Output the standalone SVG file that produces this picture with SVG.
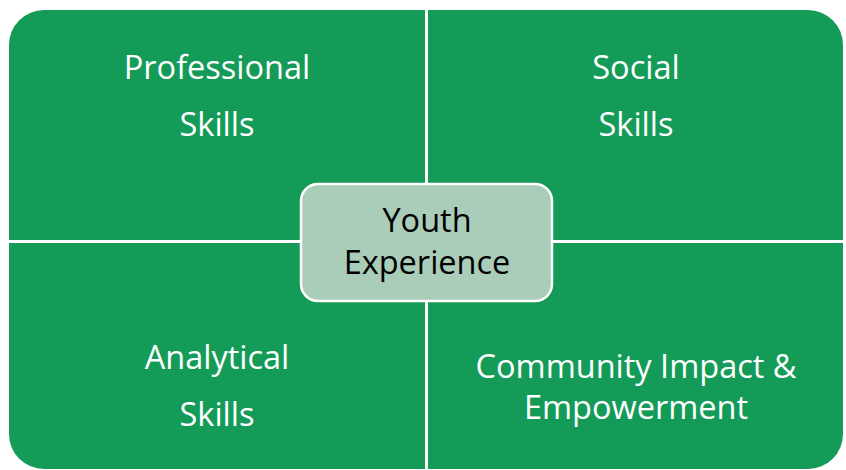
<svg xmlns="http://www.w3.org/2000/svg" width="846" height="470" viewBox="0 0 846 470">
<style>
.q{fill:#149B58}
.t{font-family:"Open Sans","Liberation Sans",sans-serif;font-size:32.5px;fill:#FFFFFF;text-anchor:middle}
.c{font-family:"Open Sans","Liberation Sans",sans-serif;font-size:32.5px;fill:#000000;text-anchor:middle}
</style>
<rect width="846" height="470" fill="#FFFFFF"/>
<g id="professional">
<path class="q" d="M9,45 A35,35 0 0 1 44,10 L425,10 L425,240 L9,240 Z"/>
<text class="t" x="217" y="79">Professional</text>
<text class="t" x="217" y="136">Skills</text>
</g>
<g id="social">
<path class="q" d="M428,10 L808,10 A35,35 0 0 1 843,45 L843,240 L428,240 Z"/>
<text class="t" x="636" y="79">Social</text>
<text class="t" x="636" y="136">Skills</text>
</g>
<g id="analytical">
<path class="q" d="M9,243 L425,243 L425,469 L44,469 A35,35 0 0 1 9,434 Z"/>
<text class="t" x="217" y="369">Analytical</text>
<text class="t" x="217" y="426">Skills</text>
</g>
<g id="community">
<path class="q" d="M428,243 L843,243 L843,434 A35,35 0 0 1 808,469 L428,469 Z"/>
<text class="t" x="636" y="378">Community Impact &amp;</text>
<text class="t" x="636" y="419">Empowerment</text>
</g>
<g id="connectors"></g>
<g id="youth-experience">
<rect x="301" y="184" width="251" height="117" rx="17" ry="17" fill="#A9CDB8" stroke="#FFFFFF" stroke-width="2.5"/>
<text class="c" x="427" y="232">Youth</text>
<text class="c" x="427" y="274">Experience</text>
</g>
</svg>
